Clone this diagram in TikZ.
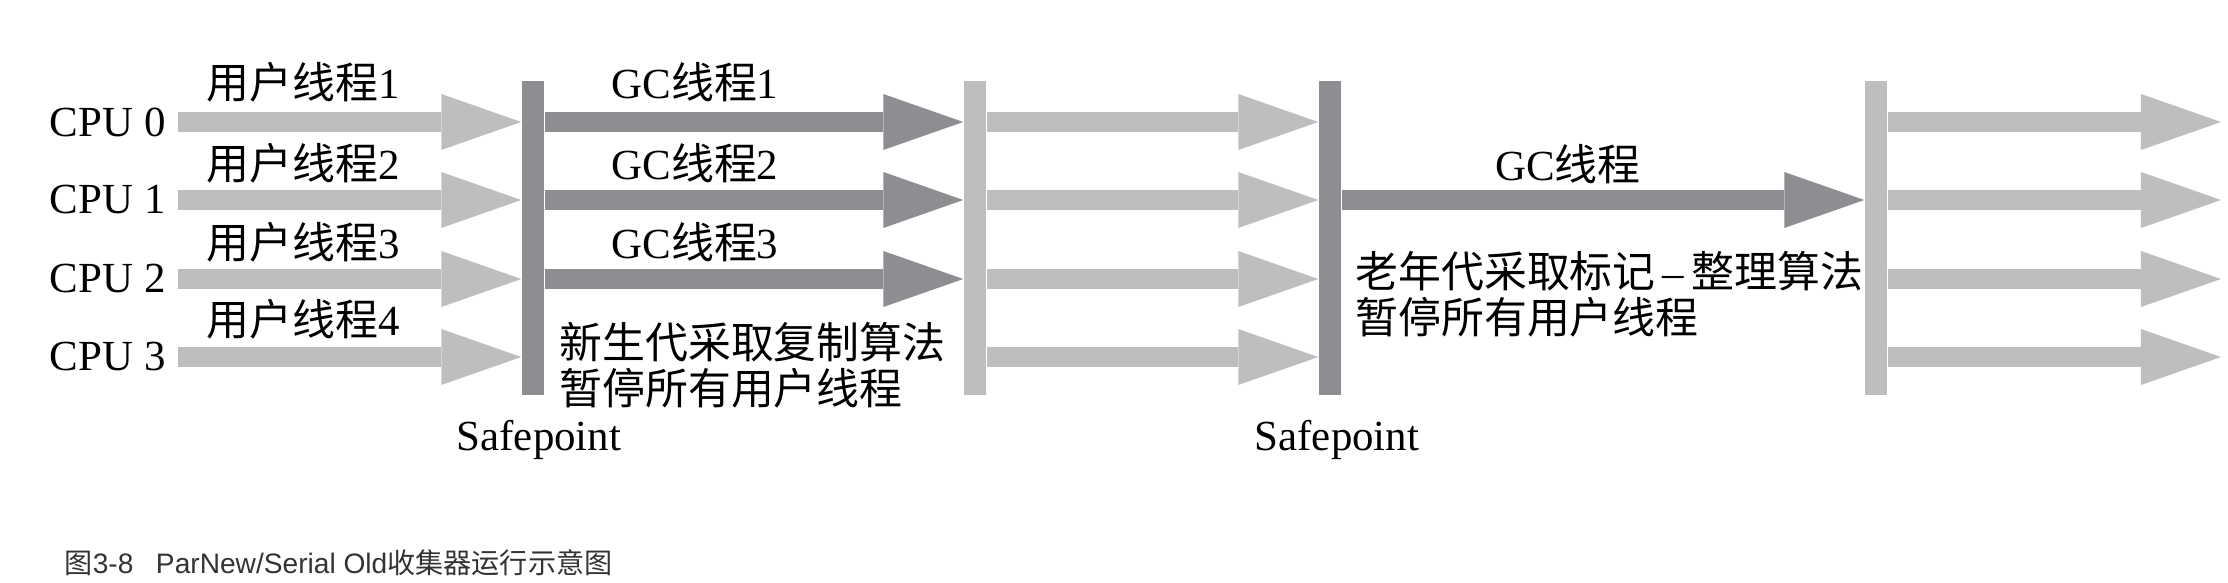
\documentclass[tikz,border=0pt]{standalone}
\usepackage{fontspec}
\setmainfont{Liberation Serif}
\setsansfont{Liberation Sans}
\newfontfamily\cjk{Noto Sans CJK SC}
\usepackage{tikz}
\usetikzlibrary{arrows.meta}
\definecolor{usergray}{RGB}{189,190,192}
\definecolor{gcgray}{RGB}{141,142,145}
\newcommand{\zh}[1]{{\cjk #1}}
\tikzset{every node/.append style={font=\fontsize{12.2pt}{13.1pt}\selectfont}}

\begin{document}
\begin{tikzpicture}[x=0.01cm, y=-0.01cm,
    flow/.style={line width=2mm, -{Triangle[length=8mm, width=5.6mm, line width=0pt]}},
    userflow/.style={flow, usergray},
    gcflow/.style={flow, gcgray},
    bar/.style={rectangle, inner sep=0pt, minimum width=2.2mm, minimum height=31.3mm},
    lightbar/.style={bar, fill=usergray},
    darkbar/.style={bar, fill=gcgray}]
    \useasboundingbox (0,0) rectangle (2228,582);
    % CPUs and safepoint bars
    \node[anchor=east] (cpu0) at (178,122) {CPU 0};
    \node[anchor=east] (cpu1) at (178,200) {CPU 1};
    \node[anchor=east] (cpu2) at (178,279) {CPU 2};
    \node[anchor=east] (cpu3) at (178,357) {CPU 3};
    \node[darkbar] (sp1) at (533,238) {};
    \node[lightbar] (sp2) at (975,238) {};
    \node[darkbar] (sp3) at (1330,238) {};
    \node[lightbar] (sp4) at (1876,238) {};
    \coordinate (rend) at (2221,0);
    % user threads up to the first safepoint
    \draw[userflow] (cpu0.east) -- (sp1.west |- cpu0.east);
    \draw[userflow] (cpu1.east) -- (sp1.west |- cpu1.east);
    \draw[userflow] (cpu2.east) -- (sp1.west |- cpu2.east);
    \draw[userflow] (cpu3.east) -- (sp1.west |- cpu3.east);
    \node (u0) at (303,82) {\zh{用户线程}1};
    \node (u1) at (303,163) {\zh{用户线程}2};
    \node (u2) at (303,242) {\zh{用户线程}3};
    \node (u3) at (303,319) {\zh{用户线程}4};
    % young generation: parallel GC threads
    \draw[gcflow] (sp1.east |- cpu0.east) -- (sp2.west |- cpu0.east);
    \draw[gcflow] (sp1.east |- cpu1.east) -- (sp2.west |- cpu1.east);
    \draw[gcflow] (sp1.east |- cpu2.east) -- (sp2.west |- cpu2.east);
    \node (gc0) at (695,82) {GC\zh{线程}1};
    \node (gc1) at (695,163) {GC\zh{线程}2};
    \node (gc2) at (695,242) {GC\zh{线程}3};
    \node[anchor=west, align=left] (young) at (547,365) {\zh{新生代采取复制算法}\\\zh{暂停所有用户线程}};
    % user threads again
    \draw[userflow] (sp2.east |- cpu0.east) -- (sp3.west |- cpu0.east);
    \draw[userflow] (sp2.east |- cpu1.east) -- (sp3.west |- cpu1.east);
    \draw[userflow] (sp2.east |- cpu2.east) -- (sp3.west |- cpu2.east);
    \draw[userflow] (sp2.east |- cpu3.east) -- (sp3.west |- cpu3.east);
    % old generation: one GC thread
    \draw[gcflow] (sp3.east |- cpu1.east) -- (sp4.west |- cpu1.east);
    \node (gc) at (1568,164) {GC\zh{线程}};
    \node[anchor=west, align=left] (old) at (1343,294) {\zh{老年代采取标记}\,--\,\zh{整理算法}\\\zh{暂停所有用户线程}};
    % user threads after the collection
    \draw[userflow] (sp4.east |- cpu0.east) -- (rend |- cpu0.east);
    \draw[userflow] (sp4.east |- cpu1.east) -- (rend |- cpu1.east);
    \draw[userflow] (sp4.east |- cpu2.east) -- (rend |- cpu2.east);
    \draw[userflow] (sp4.east |- cpu3.east) -- (rend |- cpu3.east);
    \node (sf1) at (539,440) {Safepoint};
    \node (sf2) at (1337,440) {Safepoint};
    \node[anchor=west, inner sep=0pt, text=black!80, font=\sffamily\fontsize{8pt}{9pt}\selectfont] (cap) at (64,563)
        {\zh{图}3-8\hspace{0.8em}ParNew/Serial Old\zh{收集器运行示意图}};
\end{tikzpicture}
\end{document}
